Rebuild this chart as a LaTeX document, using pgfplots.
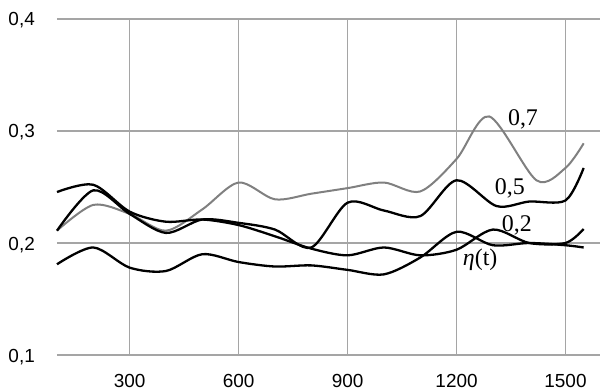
\documentclass[border=0pt]{standalone}
\usepackage{fontspec}
\setmainfont{Liberation Sans}
\newfontfamily\seriffont{Liberation Serif}
\usepackage{pgfplots}
\pgfplotsset{compat=1.18}
\definecolor{gridgray}{RGB}{165,165,165}
\definecolor{curvegray}{RGB}{128,128,128}
\begin{document}
\begin{tikzpicture}
\begin{axis}[name=ax, at={(0,0)}, anchor=south west,
 scale only axis, width=543bp, height=336bp,
 xmin=100, xmax=1595, ymin=0.1, ymax=0.4,
 xtick={300,600,900,1200,1500}, ytick={0.1,0.2,0.3,0.4},
 scaled x ticks=false, scaled y ticks=false,
 grid=major, major grid style={draw=gridgray, line width=1.4bp},
 axis line style={draw=none}, major tick length=0pt,
 tick label style={font=\fontsize{19}{22}\selectfont},
 /pgf/number format/assume math mode=true,
 /pgf/number format/1000 sep={},
 yticklabel style={/pgf/number format/fixed, /pgf/number format/precision=1, /pgf/number format/use comma, /pgf/number format/fixed zerofill, anchor=base east, inner sep=0pt, xshift=-22bp, yshift=-7bp},
 xticklabel style={anchor=base, inner sep=0pt, yshift=-32bp},
 clip=false,
]
% 0,7 (gray)
\addplot[curvegray, line width=2bp, smooth] coordinates {
(100,0.211) (200,0.234) (300,0.226) (400,0.211) (500,0.230) (600,0.254) (700,0.239) (800,0.244) (900,0.249) (1000,0.254) (1100,0.246) (1200,0.275) (1290,0.313) (1420,0.256) (1500,0.267) (1550,0.289)};
% 0,5
\addplot[black, line width=2.3bp, smooth] coordinates {
(100,0.211) (200,0.247) (300,0.226) (400,0.209) (500,0.221) (600,0.218) (700,0.212) (800,0.196) (900,0.236) (1000,0.229) (1100,0.224) (1200,0.256) (1310,0.233) (1400,0.237) (1500,0.238) (1550,0.267)};
% 0,2
\addplot[black, line width=2.3bp, smooth] coordinates {
(100,0.2455) (200,0.252) (300,0.228) (400,0.219) (500,0.221) (600,0.216) (700,0.206) (800,0.195) (900,0.189) (1000,0.196) (1100,0.189) (1200,0.194) (1300,0.212) (1400,0.200) (1500,0.200) (1550,0.2125)};
% eta(t)
\addplot[black, line width=2.3bp, smooth] coordinates {
(100,0.181) (200,0.196) (300,0.178) (400,0.175) (500,0.190) (600,0.183) (700,0.179) (800,0.180) (900,0.176) (1000,0.172) (1100,0.187) (1200,0.210) (1300,0.198) (1400,0.200) (1500,0.198) (1550,0.196)};
\node[font=\seriffont\fontsize{24}{26}\selectfont, inner sep=0pt] at (axis cs:1383,0.3107) {0,7};
\node[font=\seriffont\fontsize{24}{26}\selectfont, inner sep=0pt] at (axis cs:1347,0.249) {0,5};
\node[font=\seriffont\fontsize{24}{26}\selectfont, inner sep=0pt] at (axis cs:1366,0.216) {0,2};
\node[font=\seriffont\fontsize{24}{26}\selectfont, inner sep=0pt] at (axis cs:1265,0.185) {{\itshape η}(t)};
\end{axis}
\pgfresetboundingbox
\path (ax.south west) ++(-57bp,-37bp) rectangle ++(600bp,392bp);
\end{tikzpicture}
\end{document}
